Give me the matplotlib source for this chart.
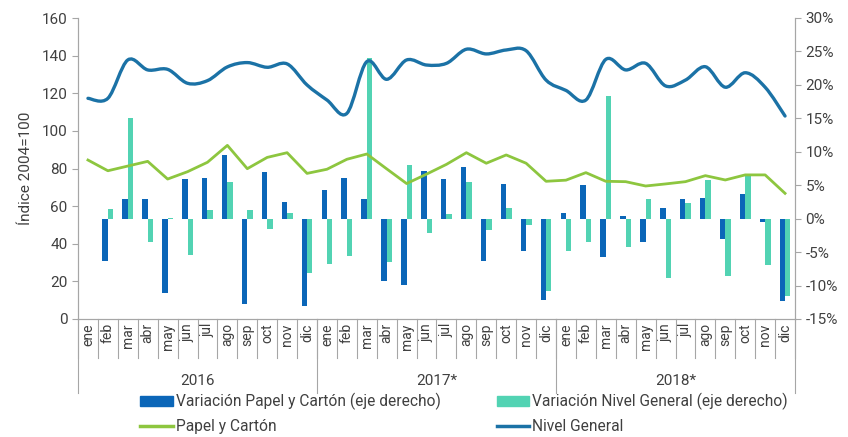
import numpy as np
import matplotlib
matplotlib.use('Agg')
import matplotlib.pyplot as plt
import matplotlib.transforms as mtransforms
from matplotlib.path import Path
from matplotlib.patches import PathPatch, Patch
from matplotlib.lines import Line2D
from matplotlib.ticker import FuncFormatter

plt.rcParams['font.family'] = ['Roboto', 'DejaVu Sans']

# Data
meses = ['ene', 'feb', 'mar', 'abr', 'may', 'jun', 'jul', 'ago', 'sep', 'oct', 'nov', 'dic'] * 3
anios = ['2016', '2017*', '2018*']

nivel_general = [117.3, 117.3, 137.7, 132.4, 132.7, 125.3, 126.7, 134.0, 136.3, 133.8, 135.6, 124.4,
                 116.4, 109.3, 136.8, 127.4, 137.7, 135.0, 135.9, 143.4, 140.9, 143.0, 142.6, 127.0,
                 121.5, 116.4, 138.0, 132.4, 135.9, 123.9, 127.0, 134.1, 123.2, 130.9, 123.2, 107.9]

papel_carton = [84.5, 78.8, 81.3, 83.8, 74.4, 78.3, 83.3, 92.3, 79.9, 85.9, 88.4, 77.4,
                79.6, 84.9, 87.7, 79.8, 72.0, 77.0, 82.2, 88.4, 82.8, 87.2, 82.8, 73.2,
                73.8, 77.8, 73.2, 73.0, 70.7, 71.8, 73.0, 76.2, 73.9, 76.6, 76.6, 66.8]

var_papel = [np.nan, -6.4, 3.0, 2.9, -11.1, 5.95, 6.15, 9.5, -12.7, 7.05, 2.5, -13.1,
             4.35, 6.05, 3.0, -9.35, -9.85, 7.15, 5.95, 7.65, -6.35, 5.25, -4.85, -12.1,
             0.85, 5.1, -5.7, 0.4, -3.5, 1.65, 2.95, 3.1, -3.0, 3.65, -0.5, -12.35]

var_nivel = [np.nan, 1.4, 15.1, -3.5, 0.1, -5.5, 1.25, 5.45, 1.25, -1.55, 0.8, -8.1,
             -6.75, -5.6, 24.0, -6.5, 8.05, -2.15, 0.65, 5.45, -1.75, 1.6, -1.0, -10.85,
             -4.85, -3.45, 18.3, -4.25, 2.95, -8.9, 2.35, 5.85, -8.5, 6.4, -7.0, -11.6]

c_var_papel = '#0B66B8'
c_var_nivel = '#52D3B3'
c_papel = '#8DC63F'
c_nivel = '#1B72A6'
c_axis = '#A6A6A6'
c_text = '#404040'


def smooth_path(x, y):
    # Catmull-Rom style bezier path, like a spreadsheet "smoothed line"
    pts = np.column_stack([x, y])
    verts = [pts[0]]
    codes = [Path.MOVETO]
    n = len(pts)
    for i in range(n - 1):
        p0 = pts[i - 1] if i > 0 else pts[i]
        p1 = pts[i]
        p2 = pts[i + 1]
        p3 = pts[i + 2] if i + 2 < n else pts[i + 1]
        verts += [p1 + (p2 - p0) / 6, p2 - (p3 - p1) / 6, p2]
        codes += [Path.CURVE4] * 3
    return Path(verts, codes)


fig = plt.figure(figsize=(8.48, 4.37), dpi=100)
ax = fig.add_axes([78 / 848, 118 / 437, 717 / 848, 301 / 437])
ax2 = ax.twinx()

x = np.arange(len(meses))
w = 0.27

# bars on the right axis
ax2.bar(x - w, var_papel, width=w, align='edge', color=c_var_papel)
ax2.bar(x, var_nivel, width=w, align='edge', color=c_var_nivel)
ax2.set_ylim(-15, 30)
ax2.set_yticks(np.arange(-15, 31, 5))
ax2.yaxis.set_major_formatter(FuncFormatter(lambda v, p: f'{v:.0f}%'))

# lines on the left axis (drawn above the bars)
ax.add_patch(PathPatch(smooth_path(x, nivel_general), fill=False, edgecolor=c_nivel,
                       lw=2.4, capstyle='round', joinstyle='round'))
ax.plot(x, papel_carton, color=c_papel, lw=2.0)
ax.set_ylim(0, 160)
ax.set_yticks(np.arange(0, 161, 20))
ax.set_xlim(-0.5, len(meses) - 0.5)
ax.set_zorder(ax2.get_zorder() + 1)
ax.patch.set_visible(False)

for a in (ax, ax2):
    a.spines['top'].set_visible(False)
    for s in ('left', 'right', 'bottom'):
        a.spines[s].set_color(c_axis)
    a.tick_params(axis='y', colors=c_axis, labelcolor=c_text, labelsize=11, length=4)

ax.set_ylabel('Índice 2004=100', fontsize=11, color=c_text, labelpad=6)

# month labels and separators
ax.set_xticks(x)
ax.set_xticklabels(meses, rotation=90, fontsize=10, color=c_text)
ax.tick_params(axis='x', length=0, pad=3)
trans = mtransforms.blended_transform_factory(ax.transData, ax.transAxes)
for b in np.arange(-0.5, len(meses), 1):
    ax.plot([b, b], [0, -0.13], transform=trans, color=c_axis, lw=0.8, clip_on=False)
for k, anio in enumerate(anios):
    b = -0.5 + 12 * k
    ax.plot([b, b], [0, -0.245], transform=trans, color=c_axis, lw=0.8, clip_on=False)
    ax.text(b + 6, -0.205, anio, transform=trans, ha='center', va='center', fontsize=11, color=c_text)
ax.plot([35.5, 35.5], [0, -0.245], transform=trans, color=c_axis, lw=0.8, clip_on=False)

handles = [Patch(color=c_var_papel), Line2D([], [], color=c_papel, lw=2.5),
           Patch(color=c_var_nivel), Line2D([], [], color=c_nivel, lw=2.5)]
labels = ['Variación Papel y Cartón (eje derecho)', 'Papel y Cartón',
          'Variación Nivel General (eje derecho)', 'Nivel General']
fig.legend(handles, labels, ncol=2, loc='upper left', bbox_to_anchor=(140 / 848, 1 - 393 / 437),
           frameon=False, fontsize=11.2, handlelength=2.1, handleheight=0.6, handletextpad=0.2,
           columnspacing=3.6, labelspacing=0.55, borderpad=0, borderaxespad=0, labelcolor=c_text)

fig.savefig('out.png', dpi=100)
